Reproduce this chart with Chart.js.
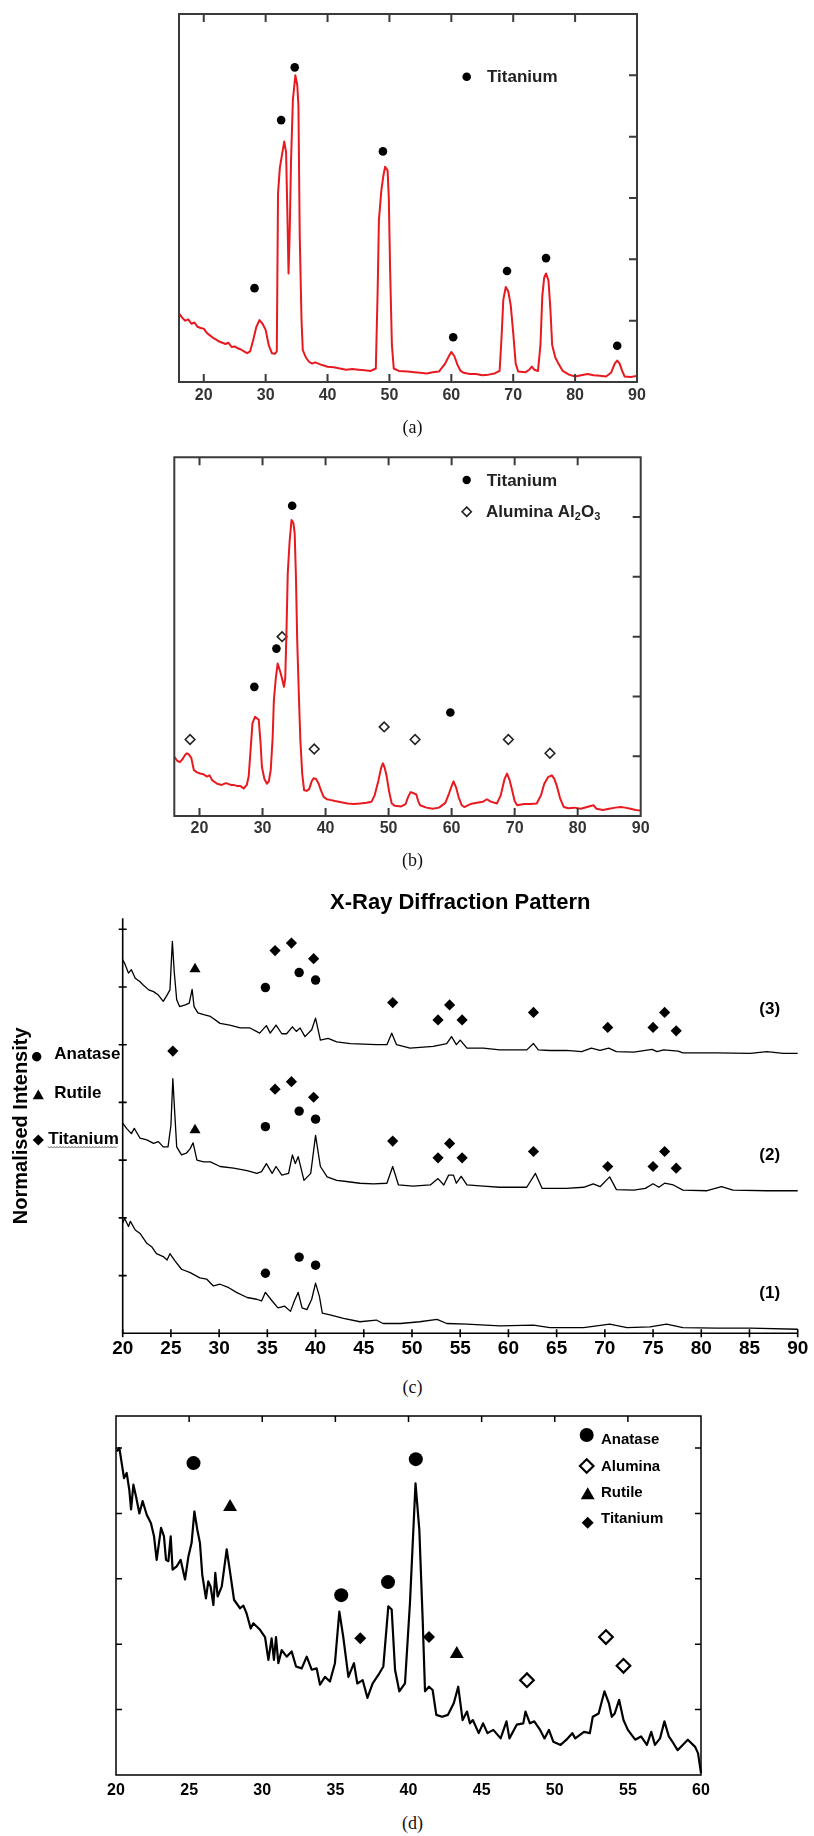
<!DOCTYPE html>
<html><head><meta charset="utf-8">
<script src="https://cdn.jsdelivr.net/npm/chart.js@4.4.1/dist/chart.umd.min.js"></script>
<style>
html,body{margin:0;padding:0;background:#fff;}
body{width:814px;height:1836px;position:relative;overflow:hidden;}
canvas{position:absolute;left:0;}
.cap{position:absolute;left:0;width:825px;text-align:center;font-family:"Liberation Serif","Times New Roman",serif;font-size:18px;color:#111;height:22px;line-height:22px;}
</style></head><body>
<canvas id="ca" width="814" height="440" style="top:0px"></canvas>
<canvas id="cb" width="814" height="420" style="top:440px"></canvas>
<canvas id="cc" width="814" height="480" style="top:880px"></canvas>
<canvas id="cd" width="814" height="400" style="top:1400px"></canvas>
<div class="cap" style="top:416px">(a)</div>
<div class="cap" style="top:849px">(b)</div>
<div class="cap" style="top:1376px">(c)</div>
<div class="cap" style="top:1812px">(d)</div>
<script>
// ---------- DATA ----------
// (a) Titanium coating, red pattern: [2θ, intensity]
const a_pattern = [[16.0,1.12],[16.5,1.05],[17.0,1.00],[17.5,1.02],[18.0,0.95],[18.5,0.97],[19.0,0.90],[19.5,0.88],[20.0,0.87],[20.5,0.80],[21.0,0.76],[21.5,0.72],[22.0,0.69],[22.5,0.66],[23.0,0.64],[23.5,0.62],[24.0,0.64],[24.5,0.57],[25.0,0.58],[25.5,0.55],[26.0,0.53],[26.5,0.50],[27.0,0.47],[27.5,0.50],[28.0,0.69],[28.5,0.90],[29.0,1.01],[29.5,0.95],[30.0,0.85],[30.5,0.60],[31.0,0.47],[31.5,0.46],[31.8,0.50],[32.0,3.08],[32.3,3.50],[32.6,3.68],[33.0,3.92],[33.3,3.75],[33.5,2.80],[33.7,1.77],[33.9,2.50],[34.1,3.60],[34.4,4.60],[34.8,5.00],[35.1,4.85],[35.3,4.50],[35.5,2.42],[35.8,1.00],[36.0,0.52],[36.5,0.40],[37.0,0.33],[37.5,0.30],[38.0,0.32],[39.0,0.28],[40.0,0.25],[41.0,0.24],[42.0,0.22],[43.0,0.20],[44.0,0.21],[45.0,0.20],[46.0,0.19],[47.0,0.18],[47.8,0.22],[48.1,1.50],[48.3,2.64],[48.7,3.13],[49.0,3.35],[49.3,3.51],[49.7,3.45],[49.9,3.00],[50.1,1.88],[50.4,0.60],[50.7,0.22],[51.5,0.18],[53.0,0.17],[54.0,0.16],[55.0,0.15],[56.0,0.14],[57.0,0.16],[58.0,0.17],[59.0,0.30],[59.6,0.42],[60.0,0.49],[60.5,0.42],[61.0,0.28],[61.5,0.18],[62.0,0.15],[63.0,0.13],[64.0,0.13],[65.0,0.11],[66.0,0.12],[67.0,0.14],[67.8,0.18],[68.1,0.70],[68.4,1.34],[68.8,1.55],[69.2,1.48],[69.6,1.25],[70.0,0.80],[70.4,0.30],[70.8,0.17],[72.0,0.16],[72.6,0.20],[73.0,0.25],[73.4,0.20],[74.0,0.18],[74.4,0.60],[74.7,1.40],[75.0,1.70],[75.3,1.77],[75.7,1.65],[76.0,1.20],[76.3,0.60],[76.8,0.40],[77.3,0.30],[78.0,0.18],[79.0,0.12],[80.0,0.09],[81.0,0.11],[82.0,0.13],[83.0,0.11],[84.0,0.10],[85.0,0.09],[85.8,0.15],[86.4,0.30],[86.8,0.35],[87.2,0.30],[87.6,0.18],[88.0,0.09],[89.0,0.08],[90.0,0.10]];
const a_titanium = [[28.2,1.53],[32.5,4.27],[34.7,5.13],[48.95,3.76],[60.3,0.73],[69.0,1.81],[75.3,2.02],[86.8,0.59]];
const a_xTicks = [20,30,40,50,60,70,80,90];
const a_yTicks = [1,2,3,4,5];

// (b)
const b_pattern = [[16.0,0.99],[16.5,0.92],[16.9,0.90],[17.3,0.95],[17.7,1.02],[18.0,1.05],[18.3,1.03],[18.7,0.97],[19.1,0.77],[19.6,0.73],[20.1,0.71],[20.6,0.70],[21.2,0.66],[21.6,0.68],[22.0,0.60],[22.8,0.54],[23.5,0.52],[24.2,0.55],[25.0,0.52],[25.4,0.52],[26.0,0.50],[26.5,0.50],[27.0,0.46],[27.5,0.52],[27.8,0.66],[28.1,1.10],[28.4,1.55],[28.8,1.66],[29.4,1.61],[29.7,1.20],[29.9,0.82],[30.3,0.62],[30.7,0.54],[31.0,0.58],[31.3,0.77],[31.6,1.30],[31.8,1.94],[32.1,2.30],[32.4,2.55],[32.7,2.45],[32.9,2.38],[33.2,2.25],[33.4,2.16],[33.6,2.30],[33.8,3.10],[34.0,4.06],[34.3,4.60],[34.6,4.95],[34.9,4.90],[35.1,4.73],[35.3,4.00],[35.5,2.94],[35.8,1.90],[36.0,1.27],[36.3,0.70],[36.6,0.43],[37.0,0.42],[37.4,0.45],[37.8,0.58],[38.1,0.63],[38.5,0.62],[38.9,0.54],[39.3,0.42],[39.7,0.32],[40.2,0.28],[40.7,0.27],[41.5,0.25],[42.5,0.23],[43.5,0.21],[44.5,0.20],[45.5,0.21],[46.5,0.22],[47.3,0.24],[47.8,0.35],[48.4,0.60],[48.8,0.80],[49.1,0.88],[49.4,0.80],[49.7,0.66],[50.1,0.40],[50.5,0.21],[51.0,0.17],[52.0,0.16],[52.7,0.20],[53.1,0.32],[53.5,0.40],[54.0,0.38],[54.4,0.36],[54.7,0.25],[55.0,0.18],[56.0,0.14],[57.0,0.12],[58.0,0.14],[59.0,0.22],[59.6,0.38],[60.0,0.50],[60.3,0.58],[60.7,0.48],[61.1,0.32],[61.6,0.18],[62.0,0.15],[63.0,0.20],[64.0,0.22],[65.0,0.24],[65.6,0.28],[66.2,0.24],[67.2,0.21],[67.8,0.35],[68.4,0.62],[68.8,0.71],[69.2,0.60],[69.6,0.43],[70.0,0.25],[70.4,0.18],[71.5,0.20],[72.5,0.20],[73.5,0.21],[74.2,0.35],[74.7,0.54],[75.3,0.65],[75.9,0.68],[76.3,0.62],[76.7,0.50],[77.2,0.30],[77.8,0.15],[78.5,0.13],[79.5,0.14],[80.5,0.12],[81.5,0.15],[82.5,0.18],[83.0,0.12],[84.0,0.10],[85.0,0.12],[86.0,0.14],[86.8,0.15],[87.5,0.14],[88.4,0.12],[89.2,0.10],[90.0,0.09]];
const b_titanium = [[28.7,2.16],[32.2,2.80],[34.7,5.19],[59.8,1.73]];
const b_alumina = [[18.5,1.28],[33.1,3.00],[38.2,1.12],[49.3,1.49],[54.2,1.28],[69.0,1.28],[75.6,1.05]];
const b_xTicks = [20,30,40,50,60,70,80,90];
const b_yTicks = [1,2,3,4,5];

// (c) three normalised patterns (offset)
const c_pattern3 = [[20.0,6.47],[20.2,6.41],[20.6,6.24],[20.9,6.30],[21.3,6.15],[21.8,6.09],[22.1,6.04],[22.7,5.95],[23.2,5.92],[23.7,5.86],[24.2,5.75],[24.6,5.86],[24.9,5.95],[25.15,6.79],[25.35,6.25],[25.6,5.78],[25.9,5.66],[26.5,5.69],[26.9,5.72],[27.2,5.96],[27.4,5.66],[27.8,5.55],[28.4,5.52],[29.1,5.49],[30.1,5.37],[31.1,5.34],[32.2,5.29],[33.2,5.29],[34.2,5.20],[34.9,5.33],[35.3,5.20],[35.9,5.34],[36.5,5.19],[37.0,5.19],[37.6,5.31],[38.0,5.23],[38.4,5.29],[38.9,5.14],[39.6,5.26],[40.0,5.46],[40.5,5.08],[41.3,5.11],[42.2,5.05],[43.6,5.02],[45.0,5.01],[46.3,5.00],[47.4,5.00],[47.9,5.20],[48.4,5.00],[49.8,4.94],[52.2,4.97],[53.6,5.02],[54.1,5.14],[54.6,5.00],[55.0,5.08],[55.7,4.94],[57.4,4.94],[59.1,4.91],[61.9,4.91],[62.6,5.02],[63.1,4.91],[64.3,4.90],[66.0,4.90],[67.6,4.88],[68.6,4.94],[69.5,4.90],[70.4,4.94],[71.2,4.88],[73.0,4.87],[74.9,4.92],[75.4,4.88],[76.1,4.91],[77.6,4.89],[78.1,4.86],[81.6,4.86],[85.1,4.85],[86.8,4.88],[88.5,4.85],[90.0,4.85]];
const c_pattern2 = [[20.0,3.64],[20.4,3.55],[20.9,3.46],[21.2,3.55],[21.8,3.38],[22.5,3.35],[23.2,3.29],[23.7,3.32],[24.2,3.23],[24.7,3.23],[25.0,3.60],[25.2,4.41],[25.4,3.81],[25.6,3.23],[26.1,3.09],[26.6,3.12],[27.0,3.20],[27.3,3.30],[27.7,3.00],[28.4,2.97],[29.1,2.97],[30.1,2.89],[31.5,2.86],[32.9,2.82],[33.9,2.77],[34.4,2.80],[34.9,2.94],[35.5,2.77],[35.9,2.89],[36.5,2.74],[37.2,2.77],[37.6,3.09],[37.9,2.94],[38.2,3.06],[38.8,2.65],[39.5,2.77],[40.0,3.43],[40.5,2.89],[41.2,2.71],[42.2,2.65],[43.2,2.63],[44.6,2.60],[46.0,2.59],[47.4,2.60],[48.0,2.89],[48.6,2.57],[50.1,2.55],[51.9,2.57],[52.7,2.68],[53.3,2.57],[53.8,2.74],[54.3,2.74],[54.6,2.60],[55.1,2.72],[55.7,2.57],[57.4,2.55],[59.1,2.53],[61.9,2.53],[62.8,2.77],[63.5,2.51],[66.0,2.51],[67.8,2.53],[68.8,2.59],[69.5,2.54],[70.5,2.71],[71.2,2.49],[73.0,2.48],[74.2,2.51],[75.0,2.59],[75.6,2.53],[76.2,2.60],[77.1,2.57],[78.1,2.48],[80.6,2.47],[82.1,2.54],[83.3,2.48],[86.8,2.47],[90.0,2.47]];
const c_pattern1 = [[20.0,1.91],[20.2,1.99],[20.6,1.85],[20.8,1.94],[21.3,1.79],[21.8,1.73],[22.5,1.56],[23.0,1.50],[23.5,1.38],[24.2,1.33],[24.6,1.27],[24.9,1.38],[25.4,1.26],[26.1,1.11],[27.0,1.05],[28.0,0.96],[28.7,0.94],[29.4,0.82],[30.1,0.85],[31.0,0.79],[31.8,0.71],[32.9,0.62],[33.9,0.59],[34.4,0.56],[34.8,0.71],[35.5,0.56],[36.1,0.44],[36.8,0.47],[37.4,0.38],[37.8,0.56],[38.2,0.71],[38.6,0.44],[39.1,0.41],[39.6,0.59],[40.0,0.87],[40.4,0.64],[40.7,0.35],[41.5,0.32],[42.9,0.26],[44.6,0.20],[46.3,0.23],[47.0,0.17],[48.8,0.17],[50.8,0.20],[52.6,0.24],[53.6,0.17],[55.7,0.16],[59.1,0.13],[62.6,0.14],[64.3,0.10],[67.8,0.10],[70.5,0.16],[72.3,0.10],[74.7,0.11],[76.4,0.16],[78.1,0.10],[81.6,0.09],[85.1,0.09],[90.0,0.07]];
const c_titanium = [[25.2,7.29],[35.8,6.63],[37.5,6.76],[39.8,6.49],[48.0,5.73],[52.7,5.43],[53.9,5.69],[55.2,5.43],[62.6,5.56],[70.3,5.30],[75.0,5.30],[76.2,5.56],[77.4,5.24],
  [25.2,4.89],[35.8,4.23],[37.5,4.36],[39.8,4.09],[48.0,3.33],[52.7,3.04],[53.9,3.29],[55.2,3.04],[62.6,3.15],[70.3,2.89],[75.0,2.89],[76.2,3.15],[77.4,2.86]];
const c_anatase = [[34.8,5.99],[38.3,6.25],[40.0,6.12],[34.8,3.58],[38.3,3.85],[40.0,3.71],[34.8,1.04],[38.3,1.32],[40.0,1.18]];
const c_rutile = [[27.5,6.31],[27.5,3.52]];
const c_curveLabels = ["(3)","(2)","(1)"];
const c_curveLabelPos = [[87.1,5.62],[87.1,3.09],[87.1,0.70]];
const c_xTicks = [20,25,30,35,40,45,50,55,60,65,70,75,80,85,90];
const c_yTicks = [1,2,3,4,5,6,7];

// (d)
const d_pattern = [[20.05,4.95],[20.23,5.0],[20.39,4.77],[20.55,4.54],[20.73,4.62],[20.91,4.36],[21.03,4.06],[21.19,4.44],[21.37,4.26],[21.60,4.0],[21.82,4.19],[22.10,3.98],[22.39,3.85],[22.60,3.65],[22.78,3.29],[23.08,3.78],[23.28,3.65],[23.42,3.29],[23.58,3.27],[23.74,3.65],[23.87,3.14],[24.15,3.19],[24.42,3.29],[24.72,2.99],[24.95,3.34],[25.17,3.55],[25.36,4.03],[25.56,3.75],[25.74,3.55],[25.90,3.06],[26.15,2.70],[26.31,2.96],[26.47,2.88],[26.66,2.60],[26.79,3.09],[26.95,2.73],[27.23,2.88],[27.57,3.45],[27.84,3.04],[28.07,2.68],[28.48,2.55],[28.71,2.59],[28.93,2.47],[29.21,2.24],[29.39,2.32],[29.85,2.22],[30.19,2.11],[30.42,1.76],[30.64,2.09],[30.80,1.76],[30.94,2.11],[31.10,1.71],[31.33,1.91],[31.67,1.81],[32.01,1.89],[32.31,1.66],[32.70,1.63],[33.04,1.81],[33.38,1.61],[33.72,1.63],[33.95,1.38],[34.29,1.50],[34.63,1.43],[34.97,1.71],[35.27,2.50],[35.54,2.11],[35.89,1.50],[36.27,1.71],[36.50,1.40],[36.87,1.45],[37.19,1.18],[37.55,1.40],[37.94,1.53],[38.28,1.66],[38.62,2.58],[38.85,2.53],[39.08,1.61],[39.37,1.28],[39.76,1.40],[40.10,2.63],[40.48,4.46],[40.74,3.75],[40.97,2.37],[41.13,1.28],[41.4,1.35],[41.65,1.30],[41.9,0.92],[42.3,0.89],[42.7,0.92],[43.1,1.10],[43.4,1.35],[43.7,0.84],[44.0,0.97],[44.2,0.79],[44.4,0.84],[44.8,0.64],[45.1,0.79],[45.4,0.64],[45.8,0.69],[46.3,0.56],[46.7,0.82],[46.9,0.56],[47.4,0.77],[47.85,0.79],[48.0,0.97],[48.3,0.79],[48.6,0.82],[49.0,0.69],[49.3,0.56],[49.6,0.69],[49.9,0.51],[50.4,0.46],[50.8,0.54],[51.2,0.64],[51.4,0.56],[52.0,0.66],[52.4,0.64],[52.6,0.89],[53.0,0.94],[53.4,1.28],[53.7,1.10],[53.9,0.89],[54.1,0.94],[54.4,1.15],[54.7,0.84],[55.0,0.69],[55.5,0.54],[55.9,0.59],[56.3,0.46],[56.6,0.66],[56.85,0.46],[57.2,0.56],[57.5,0.82],[57.8,0.59],[58.1,0.49],[58.4,0.38],[59.1,0.54],[59.6,0.43],[59.8,0.33],[60.0,0.03]];
const d_anatase = [[25.3,4.77],[40.5,4.83],[35.4,2.75],[38.6,2.95]];
const d_alumina = [[48.1,1.45],[53.5,2.11],[54.7,1.67]];
const d_rutile = [[27.8,4.10],[43.3,1.85]];
const d_titanium = [[36.7,2.09],[41.4,2.11]];
const d_xTicks = [20,25,30,35,40,45,50,55,60];
const d_yTicks = [1,2,3,4,5];

// ---------- HELPERS ----------
const SANS = '"Liberation Sans", Arial, Helvetica, sans-serif';
const toXY = arr => arr.map(([x, y]) => ({x, y}));
function lineDS(arr, color, w) {
  return {type:'scatter', data: toXY(arr), showLine:true, pointRadius:0, pointHoverRadius:0,
    borderColor: color, borderWidth: w, tension:0, fill:false, borderJoinStyle:'round', clip:false};
}
function markDS(arr, style, r, fill, stroke, bw) {
  return {type:'scatter', data: toXY(arr), showLine:false, pointStyle: style, pointRadius: r, pointHoverRadius: r,
    backgroundColor: fill, borderColor: stroke, borderWidth: bw, clip:false};
}
function drawMark(ctx, style, x, y, r, fill, stroke, lw) {
  ctx.save(); ctx.beginPath();
  if (style === 'circle') ctx.arc(x, y, r, 0, Math.PI * 2);
  else if (style === 'rectRot') { ctx.moveTo(x, y - r); ctx.lineTo(x + r, y); ctx.lineTo(x, y + r); ctx.lineTo(x - r, y); ctx.closePath(); }
  else if (style === 'triangle') { ctx.moveTo(x, y - r); ctx.lineTo(x + r * 0.866, y + r / 2); ctx.lineTo(x - r * 0.866, y + r / 2); ctx.closePath(); }
  if (fill) { ctx.fillStyle = fill; ctx.fill(); }
  if (stroke) { ctx.strokeStyle = stroke; ctx.lineWidth = lw; ctx.stroke(); }
  ctx.restore();
}
// bottom axis whose box height is fixed (labels are clipped to the axis box)
function xScale(min, max, ticks, size, color, pad, boxH) {
  return {type:'linear', min, max, position:'bottom',
    grid:{display:false, drawTicks:false}, border:{display:false},
    afterBuildTicks: s => { s.ticks = ticks.map(v => ({value: v})); },
    afterFit: s => { s.height = boxH; },
    ticks:{autoSkip:false, maxRotation:0, minRotation:0, color, padding: pad,
      font:{family: SANS, size, weight:'bold'}}};
}
// frame / tick marks drawn from the chart's own scales
function framePlugin(o) {
  return {id:'frame', afterDatasetsDraw(chart) {
    const {ctx, chartArea: a, scales: {x, y}} = chart;
    ctx.save();
    ctx.strokeStyle = o.color; ctx.lineWidth = o.lw; ctx.lineCap = 'butt';
    ctx.beginPath();
    if (o.box) ctx.rect(a.left, a.top, a.right - a.left, a.bottom - a.top);
    else { ctx.moveTo(a.left, a.top); ctx.lineTo(a.left, a.bottom); ctx.lineTo(a.right, a.bottom); }
    ctx.stroke();
    ctx.lineWidth = o.tlw || o.lw;
    ctx.beginPath();
    (o.top || []).forEach(v => { const p = x.getPixelForValue(v); ctx.moveTo(p, a.top); ctx.lineTo(p, a.top + o.len); });
    (o.bottom || []).forEach(v => { const p = x.getPixelForValue(v); ctx.moveTo(p, a.bottom - o.len); ctx.lineTo(p, a.bottom + (o.out || 0)); });
    (o.left || []).forEach(v => { const p = y.getPixelForValue(v); ctx.moveTo(a.left - (o.out || 0), p); ctx.lineTo(a.left + o.len, p); });
    (o.right || []).forEach(v => { const p = y.getPixelForValue(v); ctx.moveTo(a.right, p); ctx.lineTo(a.right - o.len, p); });
    ctx.stroke();
    ctx.restore();
  }};
}
function textPlugin(fn) { return {id:'texts', afterDraw(chart) { const ctx = chart.ctx; ctx.save(); fn(ctx, chart); ctx.restore(); }}; }
function baseOpts(pad) {
  return {responsive:false, animation:false, devicePixelRatio:1, layout:{padding: pad},
    plugins:{legend:{display:false}, tooltip:{enabled:false}, title:{display:false}},
    events: []};
}
const RED = '#e8191f';

// ---------- (a) ----------
{
  const o = baseOpts({left:179, right:177, top:14, bottom:0});
  o.scales = {x: xScale(16, 90, a_xTicks, 16, '#333', 4, 58), y:{type:'linear', min:0, max:6, display:false}};
  new Chart(document.getElementById('ca'), {type:'scatter',
    data:{datasets:[lineDS(a_pattern, RED, 2), markDS(a_titanium, 'circle', 4.3, '#000', '#000', 0)]},
    options:o,
    plugins:[framePlugin({box:true, color:'#3a3a3a', lw:2, len:8, top:[20,30,40,50,60,70,80], bottom:[20,30,40,50,60,70,80], right:a_yTicks}),
      textPlugin(ctx => {
        drawMark(ctx, 'circle', 466.7, 76.7, 4.3, '#000');
        ctx.fillStyle = '#222'; ctx.font = 'bold 17px ' + SANS; ctx.textBaseline = 'middle';
        ctx.fillText('Titanium', 487, 77.5);
      })]
  });
}
// ---------- (b) ----------
{
  const o = baseOpts({left:174.3, right:173.3, top:17.3, bottom:0});
  o.scales = {x: xScale(16, 90, b_xTicks, 16, '#333', 2.5, 44), y:{type:'linear', min:0, max:6, display:false}};
  new Chart(document.getElementById('cb'), {type:'scatter',
    data:{datasets:[lineDS(b_pattern, RED, 2), markDS(b_titanium, 'circle', 4.3, '#000', '#000', 0),
      markDS(b_alumina, 'rectRot', 4.8, 'rgba(255,255,255,0)', '#222', 1.6)]},
    options:o,
    plugins:[framePlugin({box:true, color:'#3a3a3a', lw:2, len:8, top:[20,30,40,50,60,70,80], bottom:[20,30,40,50,60,70,80], right:b_yTicks}),
      textPlugin(ctx => {
        drawMark(ctx, 'circle', 466.7, 40, 4.2, '#000');
        drawMark(ctx, 'rectRot', 466.7, 71.7, 4.6, null, '#222', 1.6);
        ctx.fillStyle = '#222'; ctx.font = 'bold 17px ' + SANS; ctx.textBaseline = 'middle';
        ctx.fillText('Titanium', 486.7, 41);
        let x = 486; const y = 72;
        ctx.fillText('Alumina Al', x, y); x += ctx.measureText('Alumina Al').width;
        ctx.font = 'bold 11px ' + SANS; ctx.fillText('2', x, y + 5); x += ctx.measureText('2').width;
        ctx.font = 'bold 17px ' + SANS; ctx.fillText('O', x, y); x += ctx.measureText('O').width;
        ctx.font = 'bold 11px ' + SANS; ctx.fillText('3', x, y + 5);
      })]
  });
}
// ---------- (c) ----------
{
  const o = baseOpts({left:0, right:16.3, top:0, bottom:0});
  o.plugins.title = {display:true, text:'X-Ray Diffraction Pattern', fullSize:false, color:'#000',
    font:{family: SANS, size:22, weight:'bold'}, padding:{top:10, bottom:1.9}};
  o.scales = {x: xScale(20, 90, c_xTicks, 19, '#000', 4, 26.7),
    y:{type:'linear', min:0, max:7.19, position:'left', grid:{display:false, drawTicks:false}, border:{display:false},
      ticks:{display:false}, afterFit: s => { s.width = 122.7; },
      title:{display:true, text:'Normalised Intensity', color:'#000', font:{family: SANS, size:20, weight:'bold'}, padding:{top:9.7, bottom:0}}}};
  new Chart(document.getElementById('cc'), {type:'scatter',
    data:{datasets:[lineDS(c_pattern3, '#000', 1.3), lineDS(c_pattern2, '#000', 1.3), lineDS(c_pattern1, '#000', 1.3),
      markDS(c_titanium, 'rectRot', 5.6, '#000', '#000', 0), markDS(c_anatase, 'circle', 4.7, '#000', '#000', 0),
      markDS(c_rutile, 'triangle', 6.4, '#000', '#000', 0)]},
    options:o,
    plugins:[framePlugin({box:false, color:'#000', lw:1.6, len:4, out:4, bottom:c_xTicks, left:c_yTicks}),
      textPlugin((ctx, chart) => {
        const {x, y} = chart.scales;
        ctx.fillStyle = '#000'; ctx.textBaseline = 'middle'; ctx.textAlign = 'center';
        ctx.font = 'bold 17px ' + SANS;
        c_curveLabels.forEach((t, i) => ctx.fillText(t, x.getPixelForValue(c_curveLabelPos[i][0]), y.getPixelForValue(c_curveLabelPos[i][1])));
        ctx.textAlign = 'left';
        drawMark(ctx, 'circle', 36.7, 176.7, 4.7, '#000');
        drawMark(ctx, 'triangle', 38.3, 216, 6.4, '#000');
        drawMark(ctx, 'rectRot', 38.3, 260, 5.6, '#000');
        ctx.fillText('Anatase', 54.3, 174);
        ctx.fillText('Rutile', 54.3, 213);
        ctx.fillText('Titanium', 48.3, 259);
        // wavy underline
        ctx.strokeStyle = '#666'; ctx.lineWidth = 1; ctx.beginPath();
        for (let px = 48; px <= 118; px += 1.5) { const py = 267 + ((Math.round((px - 48) / 1.5) % 2) ? 1 : -0.5); if (px === 48) ctx.moveTo(px, py); else ctx.lineTo(px, py); }
        ctx.stroke();
      })]
  });
}
// ---------- (d) ----------
{
  const o = baseOpts({left:116, right:113, top:16, bottom:0});
  o.scales = {x: xScale(20, 60, d_xTicks, 16, '#000', 5.5, 25), y:{type:'linear', min:0, max:5.49, display:false}};
  new Chart(document.getElementById('cd'), {type:'scatter',
    data:{datasets:[lineDS(d_pattern, '#000', 2.2),
      markDS(d_anatase, 'circle', 7, '#000', '#000', 0), markDS(d_alumina, 'rectRot', 6.8, 'rgba(255,255,255,0)', '#000', 2.2),
      markDS(d_rutile, 'triangle', 8, '#000', '#000', 0), markDS(d_titanium, 'rectRot', 6, '#000', '#000', 0)]},
    options:o,
    plugins:[framePlugin({box:true, color:'#000', lw:1.5, len:6, top:[25,30,35,40,45,50,55], left:d_yTicks, right:d_yTicks}),
      textPlugin(ctx => {
        drawMark(ctx, 'circle', 586.7, 35, 7, '#000');
        drawMark(ctx, 'rectRot', 586.7, 66, 6.8, null, '#000', 2.2);
        drawMark(ctx, 'triangle', 587.7, 95.3, 8, '#000');
        drawMark(ctx, 'rectRot', 587.7, 122.7, 6, '#000');
        ctx.fillStyle = '#000'; ctx.font = 'bold 15px ' + SANS; ctx.textBaseline = 'middle';
        ctx.fillText('Anatase', 601, 40);
        ctx.fillText('Alumina', 601, 66.5);
        ctx.fillText('Rutile', 601, 93);
        ctx.fillText('Titanium', 601, 119);
      })]
  });
}
</script>
</body></html>
